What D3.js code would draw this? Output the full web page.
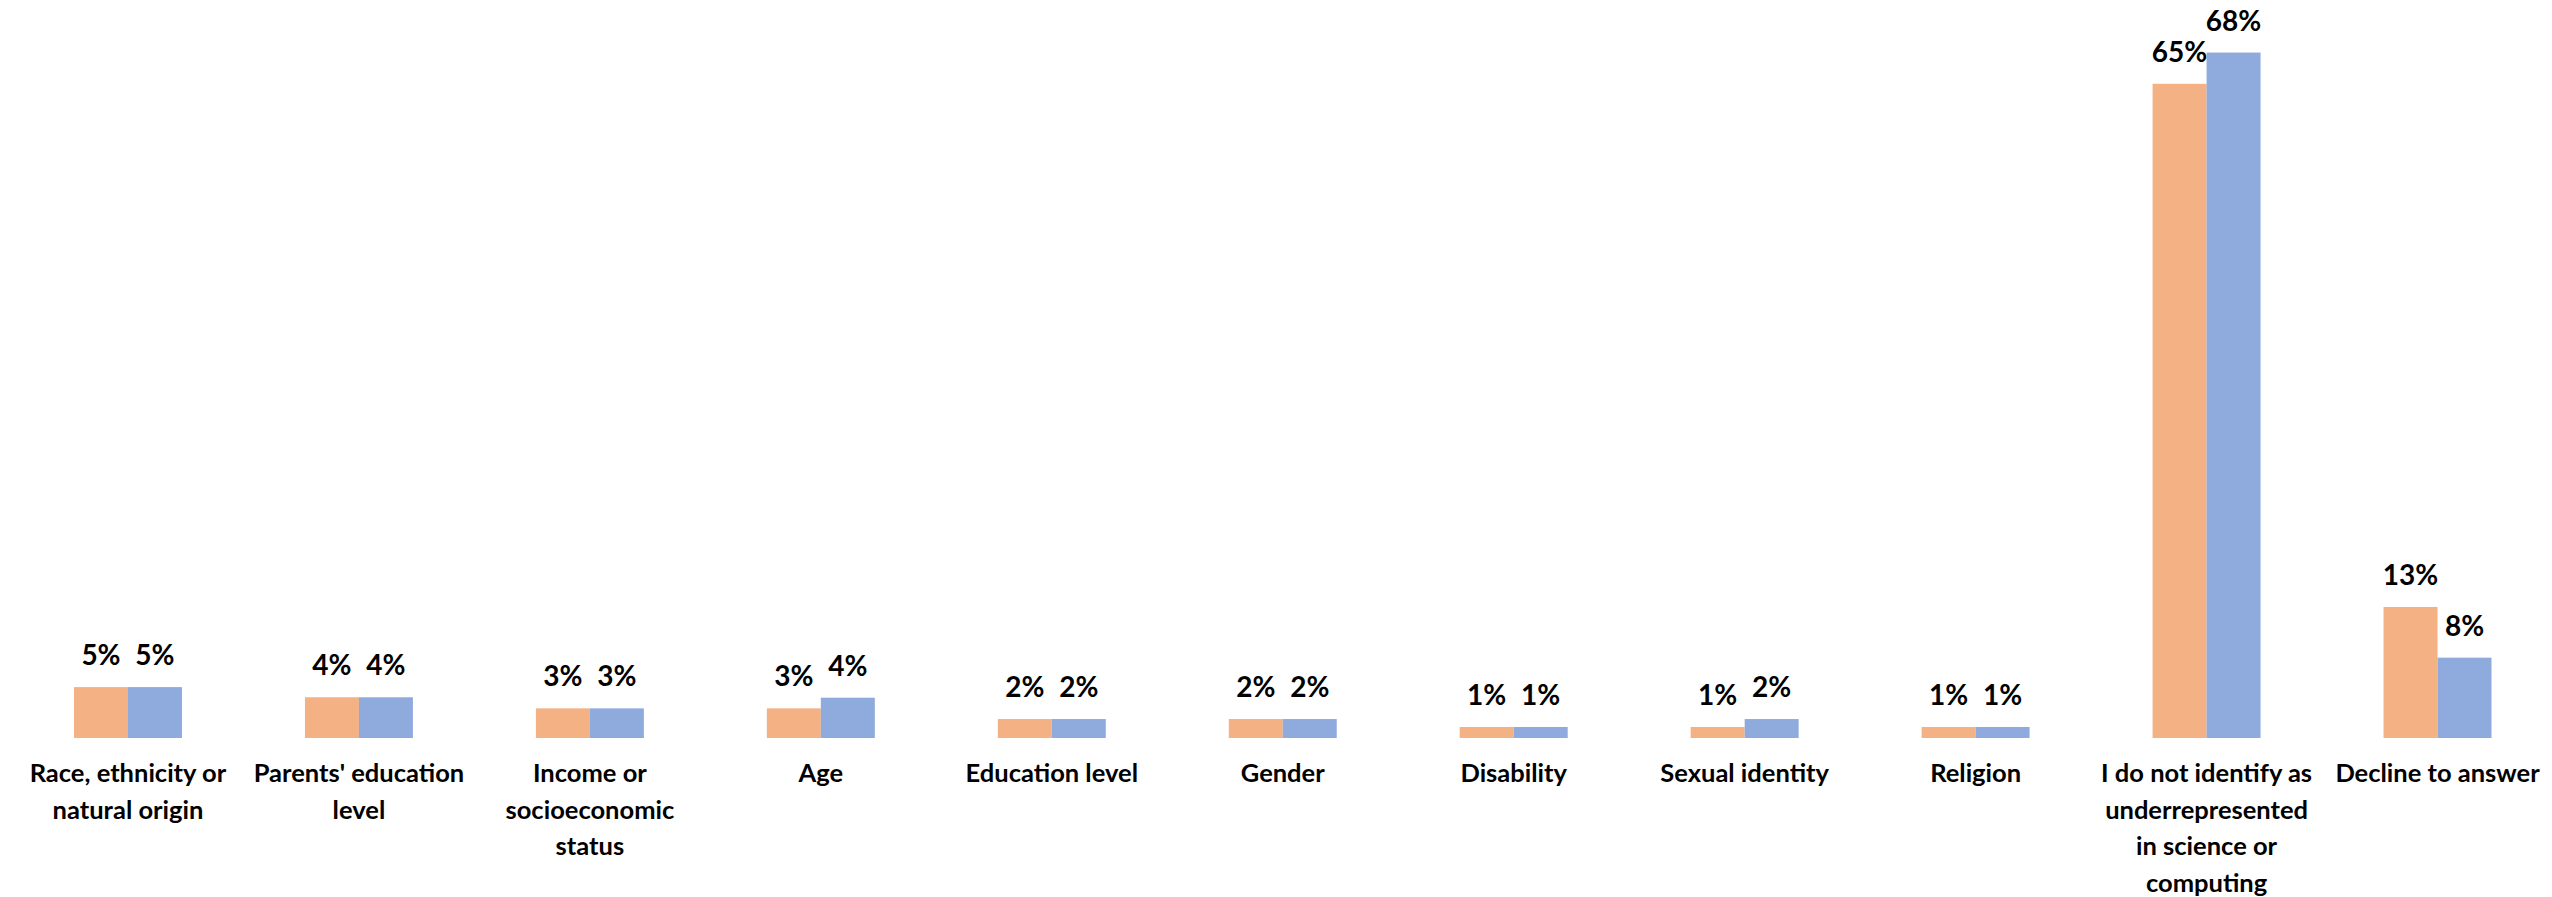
<!DOCTYPE html>
<html>
<head>
<meta charset="utf-8">
<script src="https://cdn.jsdelivr.net/npm/d3@7"></script>
<style>
  body { margin: 0; background: #fff; }
  svg { display: block; }
  text { font-family: Lato, "Open Sans", sans-serif; font-weight: bold; fill: #000; }
</style>
</head>
<body>
<svg id="chart"></svg>
<script>
// data
var categories = [
  "Race, ethnicity or natural origin",
  "Parents' education level",
  "Income or socioeconomic status",
  "Age",
  "Education level",
  "Gender",
  "Disability",
  "Sexual identity",
  "Religion",
  "I do not identify as underrepresented in science or computing",
  "Decline to answer"
];
// tick labels, split the way the reference wraps them
var categoryLines = [
  ["Race, ethnicity or", "natural origin"],
  ["Parents' education", "level"],
  ["Income or", "socioeconomic", "status"],
  ["Age"],
  ["Education level"],
  ["Gender"],
  ["Disability"],
  ["Sexual identity"],
  ["Religion"],
  ["I do not identify as", "underrepresented", "in science or", "computing"],
  ["Decline to answer"]
];
var seriesNames = ["Series 1", "Series 2"];
var series1 = [5.05, 4.04, 2.94, 2.94, 1.88, 1.88, 1.09, 1.09, 1.09, 64.9, 13.0];
var series2 = [5.05, 4.04, 2.94, 4.0, 1.88, 1.88, 1.09, 1.88, 1.09, 68.0, 7.97];
var colors = ["#F4B183", "#8FAADC"];

// sizes
var fullWidth = 2552;
var fullHeight = 897;
var baseline = 738;

var svg = d3.select("#chart")
  .attr("width", fullWidth)
  .attr("height", fullHeight);

var x0 = d3.scaleBand()
  .domain(categories)
  .range([12.5, 2553])
  .paddingInner(0.5325)
  .paddingOuter(0.5325 / 2);

var x1 = d3.scaleBand()
  .domain(seriesNames)
  .range([0, x0.bandwidth()]);

var y = d3.scaleLinear()
  .domain([0, 70])
  .range([baseline, 32.4]);

var color = d3.scaleOrdinal().domain(seriesNames).range(colors);

var rows = categories.map(function(c, i) {
  return {
    category: c,
    values: [
      {name: seriesNames[0], value: series1[i]},
      {name: seriesNames[1], value: series2[i]}
    ]
  };
});

var groups = svg.append("g")
  .selectAll("g")
  .data(rows)
  .join("g")
  .attr("transform", function(d) { return "translate(" + x0(d.category) + ",0)"; });

groups.selectAll("rect")
  .data(function(d) { return d.values; })
  .join("rect")
  .attr("x", function(d) { return x1(d.name); })
  .attr("y", function(d) { return y(d.value); })
  .attr("width", x1.bandwidth())
  .attr("height", function(d) { return baseline - y(d.value); })
  .attr("fill", function(d) { return color(d.name); });

// value labels
groups.selectAll("text.value")
  .data(function(d) { return d.values; })
  .join("text")
  .attr("class", "value")
  .attr("x", function(d) { return x1(d.name) + x1.bandwidth() / 2; })
  .attr("y", function(d) { return y(d.value) - 22; })
  .attr("text-anchor", "middle")
  .style("font-size", "28px")
  .text(function(d) { return Math.round(d.value) + "%"; });

// category axis (no line, no ticks)
var xAxis = d3.axisBottom(x0).tickSize(0).tickFormat("");
var axisG = svg.append("g")
  .attr("transform", "translate(0," + baseline + ")")
  .call(xAxis);
axisG.select(".domain").remove();

axisG.selectAll(".tick").each(function(d, i) {
  var t = d3.select(this).append("text")
    .attr("text-anchor", "middle")
    .style("font-size", "25.5px");
  categoryLines[i].forEach(function(line, j) {
    t.append("tspan")
      .attr("x", 0)
      .attr("y", 44 + j * 36.5)
      .text(line);
  });
});
</script>
</body>
</html>
